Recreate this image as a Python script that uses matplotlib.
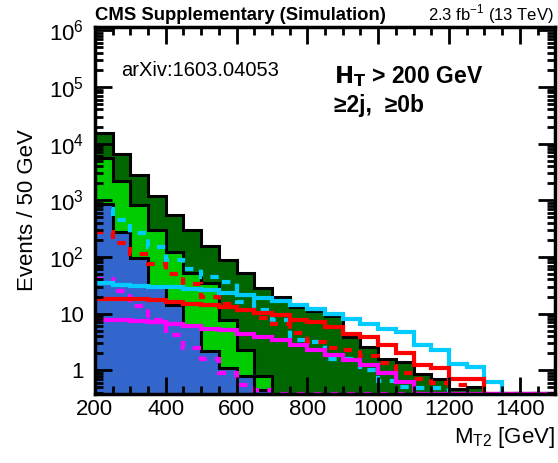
import numpy as np
import matplotlib
matplotlib.use('Agg')
import matplotlib.pyplot as plt

plt.rcParams['font.family'] = ['Liberation Sans', 'DejaVu Sans']

# 50 GeV bins from 200 to 1500
edges = np.arange(200, 1501, 50)

# stack components (events per bin)
blue = [850, 270, 95, 31, 14, 6, 2.2, 1.1, 0.8, 0.45, 0, 0, 0,
        0, 0, 0, 0, 0, 0, 0, 0, 0, 0, 0, 0, 0]
lgreen = [4700, 1960, 715, 264, 108, 45, 32, 6.5, 1.45, 0.33, 0, 0, 0,
          0, 0, 0, 0, 0, 0, 0, 0, 0, 0, 0, 0, 0]
dgreen = [10000, 4400, 1950, 875, 438, 244, 122, 79, 50, 27.6, 19.5, 13.3, 11,
          9.0, 3.8, 2.6, 1.6, 1.4, 0.87, 0.71, 0.47, 0.5, 0, 0, 0, 0]

# signal-like overlays
cyan_solid = [34, 32, 31, 30, 29, 27, 26, 23, 21, 19, 16.7, 14, 12.2,
              10, 8.1, 6.5, 5.4, 4.7, 2.8, 2.25, 1.3, 1.15, 0.62, 0, 0, 0]
red_solid = [18.4, 18.4, 18.4, 17.6, 16, 15, 14, 13, 11.7, 10.2, 9.3, 7.8, 7.1,
             5.7, 4.4, 3.8, 2.8, 2.0, 1.22, 1.1, 0.71, 0.7, 0, 0, 0, 0]
mag_solid = [7.8, 7.6, 7.3, 7.1, 6.5, 6.0, 5.4, 5.1, 4.4, 3.9, 3.4, 2.8, 2.3,
             1.84, 1.5, 1.22, 0.9, 0.62, 0, 0, 0, 0, 0, 0, 0, 0]
cyan_dash = [710, 450, 260, 150, 87, 60, 45, 36, 16, 11.4, 7.6, 3.4, 3.2,
             1.6, 1.55, 1.0, 0.64, 0.5, 0.48, 0.48, 0, 0, 0, 0, 0, 0]
red_dash = [280, 178, 114, 74, 50, 33, 20, 15, 11.4, 8.3, 6.5, 4.5, 3.2,
            2.5, 2.25, 1.8, 1.33, 0.88, 0.7, 0.6, 0.54, 0, 0, 0, 0, 0]
mag_dash = [40, 25, 13.4, 7.6, 4.1, 2.5, 1.6, 0.88, 0.54, 0.44, 0, 0, 0,
            0, 0, 0, 0, 0, 0, 0, 0, 0, 0, 0, 0, 0]

ymin, ymax = 0.38, 1.15e6

fig = plt.figure(figsize=(5.58, 4.63), dpi=100)
ax = fig.add_axes([0.170, 0.149, 0.825, 0.793])

# stacked histogram, drawn from the top down
s1 = np.array(blue)
s2 = s1 + np.array(lgreen)
s3 = s2 + np.array(dgreen)
for top, col in [(s3, '#006600'), (s2, '#00cc00'), (s1, '#3366cc')]:
    ax.stairs(np.clip(top, 1e-3, None), edges, baseline=1e-3, fill=True, color=col, lw=0)
    ax.stairs(np.clip(top, 1e-3, None), edges, baseline=None, color='black', lw=2.2)

for vals, col in [(cyan_dash, '#00ccff'), (red_dash, '#ff0000'), (mag_dash, '#ff00ff')]:
    ax.stairs(np.clip(vals, ymin, None), edges, baseline=None, color=col, lw=3, ls=(0, (2, 2)))
for vals, col in [(cyan_solid, '#00ccff'), (red_solid, '#ff0000'), (mag_solid, '#ff00ff')]:
    ax.stairs(np.clip(vals, ymin, None), edges, baseline=None, color=col, lw=3)

ax.set_yscale('log')
ax.set_xlim(200, 1500)
ax.set_ylim(ymin, ymax)
ax.set_xticks([200, 400, 600, 800, 1000, 1200, 1400])
ax.set_xticks(np.arange(200, 1501, 50), minor=True)
ax.set_yticks([1, 10, 100, 1e3, 1e4, 1e5, 1e6])
ax.set_yticklabels(['1', '10', '$\\mathregular{10^2}$', '$\\mathregular{10^3}$',
                    '$\\mathregular{10^4}$', '$\\mathregular{10^5}$', '$\\mathregular{10^6}$'])
ax.tick_params(which='both', direction='in', top=True, right=True, labelsize=16, width=2)
ax.tick_params(which='major', length=12)
ax.tick_params(which='minor', length=6)
ax.tick_params(axis='y', pad=8)
for sp in ax.spines.values():
    sp.set_linewidth(2.5)

ax.set_ylabel('Events / 50 GeV', fontsize=16, labelpad=8)
ax.set_xlabel('$\\mathregular{M_{T2}}$ [GeV]', fontsize=16, loc='right')

fig.text(0.170, 0.957, 'CMS Supplementary (Simulation)', fontsize=13.3, fontweight='bold', va='baseline')
fig.text(0.993, 0.957, '2.3 fb$^{\\mathregular{-1}}$ (13 TeV)', fontsize=12, ha='right', va='baseline')
ax.text(0.058, 0.88, 'arXiv:1603.04053', transform=ax.transAxes, fontsize=14.5, va='center')
ax.text(0.52, 0.864, '$\\mathbf{H_T}$ > 200 GeV', transform=ax.transAxes, fontsize=16.5,
        fontweight='bold', va='center')
ax.text(0.52, 0.787, '≥2j,  ≥0b', transform=ax.transAxes, fontsize=16.5,
        fontweight='bold', va='center')

fig.savefig('out.png', dpi=100)
